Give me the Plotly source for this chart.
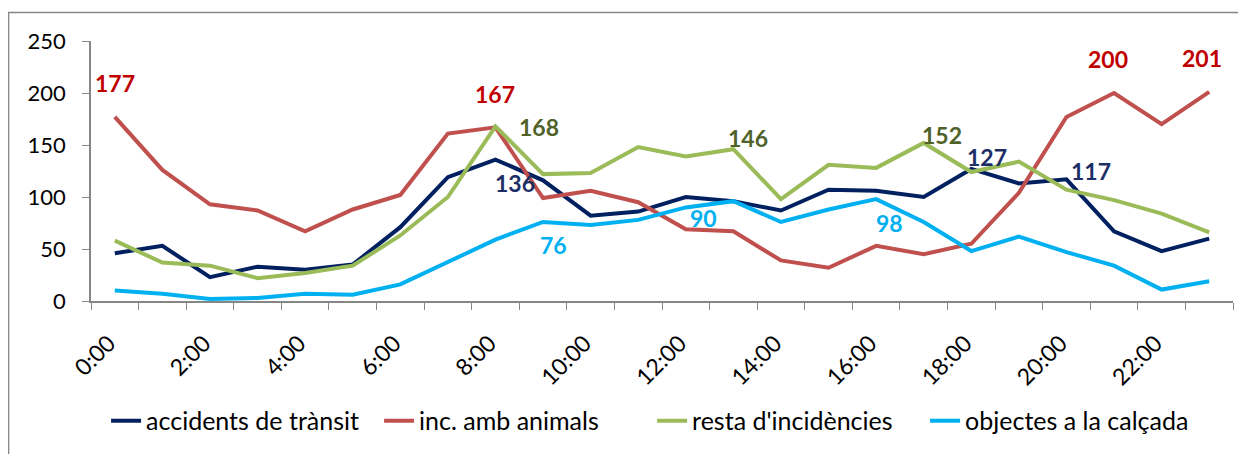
import plotly.graph_objects as go

hours = [f"{h}:00" for h in range(24)]
tick_text = [h if i % 2 == 0 else "" for i, h in enumerate(hours)]

accidents = [46, 53, 23, 33, 30, 35, 71, 119, 136, 116, 82, 86, 100, 96, 87, 107, 106, 100, 127, 113, 117, 67, 48, 60]
animals = [177, 126, 93, 87, 67, 88, 102, 161, 167, 99, 106, 95, 69, 67, 39, 32, 53, 45, 55, 104, 177, 200, 170, 201]
resta = [58, 37, 34, 22, 27, 34, 63, 100, 168, 122, 123, 148, 139, 146, 98, 131, 128, 152, 124, 134, 107, 97, 84, 66]
objectes = [10, 7, 2, 3, 7, 6, 16, 37, 59, 76, 73, 78, 90, 96, 76, 88, 98, 76, 48, 62, 47, 34, 11, 19]

names = ["accidents de trànsit", "inc. amb animals", "resta d'incidències", "objectes a la calçada"]
series = [accidents, animals, resta, objectes]
line_colors = ["#002060", "#C0504D", "#9BBB59", "#00B0F0"]
label_colors = ["#1C2E66", "#C00000", "#4F6228", "#00B0F0"]

# (series index, category index, xshift, yshift)
labels = [
    (1, 0, 0, 34), (1, 8, 0, 33), (2, 8, 44, -1), (0, 8, 20, -23),
    (3, 9, 10, -23), (3, 12, 18, -11), (2, 13, 15, 11), (3, 16, 13, -24),
    (2, 17, 18, 8), (0, 18, 16, 12), (0, 20, 25, 8), (1, 21, -6, 34), (1, 23, -7, 34),
]

FONT = "Lato"
fig = go.Figure()
for name, vals, col in zip(names, series, line_colors):
    fig.add_trace(go.Scatter(x=hours, y=vals, name=name, mode="lines",
                             line=dict(color=col, width=4)))

for si, ci, dx, dy in labels:
    fig.add_annotation(x=hours[ci], y=series[si][ci], text=f"<b>{series[si][ci]}</b>",
                       showarrow=False, xshift=dx, yshift=dy,
                       font=dict(family=FONT, size=23, color=label_colors[si]))

# chart-area border
fig.add_shape(type="rect", xref="paper", yref="paper",
              x0=-0.0722, x1=1.2, y0=-0.7, y1=1.1096,
              line=dict(color="#868686", width=1.5), layer="below")

fig.update_layout(
    width=1246, height=454,
    margin=dict(l=83, r=21, t=33, b=161),
    plot_bgcolor="white", paper_bgcolor="white",
    font=dict(family=FONT, size=22, color="black"),
    showlegend=True,
    legend=dict(orientation="h", x=0.0132, xanchor="left", y=-0.4615, yanchor="middle",
                font=dict(family=FONT, size=25, color="black"),
                entrywidth=228, entrywidthmode="pixels",
                tracegroupgap=0, traceorder="normal"),
    xaxis=dict(type="category", tickmode="array", tickvals=hours, ticktext=tick_text,
               tickangle=-45, tickson="boundaries", ticks="outside", ticklen=7,
               tickcolor="#868686", showline=True, linecolor="#868686", linewidth=1.5,
               showgrid=False, zeroline=False, range=[-0.5, 23.5],
               tickfont=dict(family=FONT, size=23, color="black"),
               ticklabelstandoff=18, ticklabelshift=-6),
    yaxis=dict(range=[0, 250], tickvals=[0, 50, 100, 150, 200, 250], ticks="outside",
               ticklen=7, tickcolor="#868686", showline=True, linecolor="#868686",
               linewidth=1.5, showgrid=False, zeroline=False,
               tickfont=dict(family=FONT, size=22, color="black"),
               ticklabelstandoff=12),
)

fig.write_html("out.html")
